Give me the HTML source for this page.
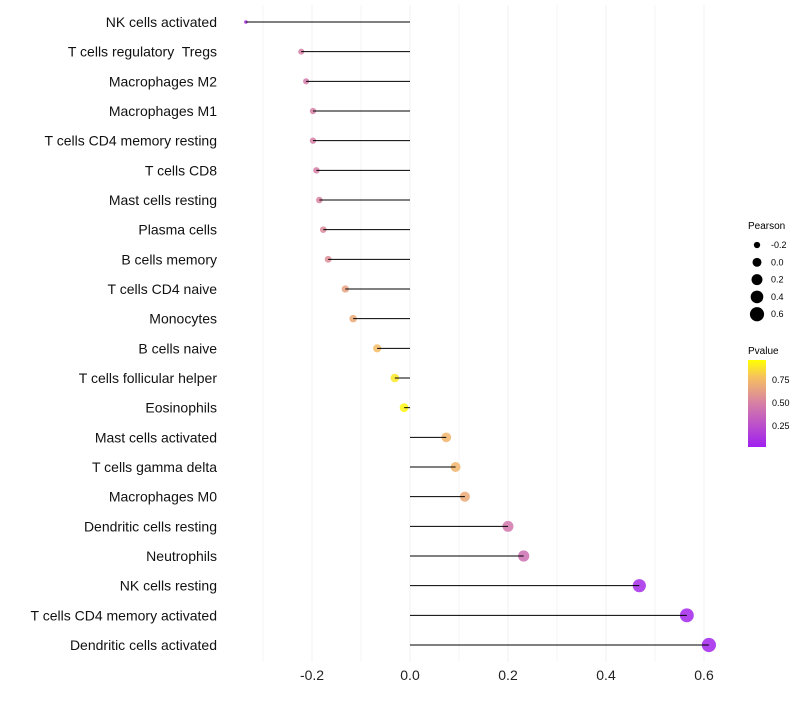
<!DOCTYPE html>
<html><head><meta charset="utf-8"><style>
body{margin:0;background:#fff;font-family:"Liberation Sans",sans-serif}
text{white-space:pre}
</style></head><body>
<svg id="chart" width="800" height="700">
<defs><linearGradient id="pg" x1="0" y1="1" x2="0" y2="0">
<stop offset="0" stop-color="#a020f0"/><stop offset="0.5" stop-color="#d67fa6"/><stop offset="0.8" stop-color="#f6c060"/><stop offset="1" stop-color="#ffff00"/></linearGradient></defs>
<g id="grid"></g><g id="pts"></g><g id="marks"></g><g id="labels"></g>
<g font-size="9" fill="#000">
<text x="748" y="229" font-size="10">Pearson</text>
<text x="748" y="354" font-size="10">Pvalue</text>
<rect x="748" y="360" width="18" height="87" fill="url(#pg)"/>
<text x="772" y="383">0.75</text><text x="772" y="406">0.50</text><text x="772" y="429">0.25</text>
</g>
<g id="sizeleg"></g>
</svg>
<script>
const cells=["NK cells activated","T cells regulatory  Tregs","Macrophages M2","Macrophages M1","T cells CD4 memory resting","T cells CD8","Mast cells resting","Plasma cells","B cells memory","T cells CD4 naive","Monocytes","B cells naive","T cells follicular helper","Eosinophils","Mast cells activated","T cells gamma delta","Macrophages M0","Dendritic cells resting","Neutrophils","NK cells resting","T cells CD4 memory activated","Dendritic cells activated"];
const pearson=[-0.335,-0.222,-0.212,-0.198,-0.198,-0.191,-0.185,-0.177,-0.167,-0.132,-0.116,-0.067,-0.031,-0.012,0.074,0.093,0.112,0.2,0.232,0.468,0.565,0.61];
const pvalue=[0.1,0.5,0.48,0.5,0.5,0.5,0.52,0.55,0.57,0.66,0.7,0.78,0.92,0.97,0.75,0.75,0.7,0.45,0.42,0.05,0.03,0.02];
const xTicks=[-0.2,0,0.2,0.4,0.6];
const xTickLabels=["-0.2","0.0","0.2","0.4","0.6"];
const sizeLegend=[-0.2,0,0.2,0.4,0.6];
const sizeLegendLabels=["-0.2","0.0","0.2","0.4","0.6"];
const NS="http://www.w3.org/2000/svg";
const x=v=>410+490*v;
const y=i=>22+i*(623/21);
const r=v=>Math.sqrt(Math.max(2,20+50*v));
function lerp(a,b,t){return a.map((c,k)=>Math.round(c+(b[k]-c)*t));}
function col(p){const s=[[0,[160,32,240]],[0.5,[214,127,166]],[0.8,[246,192,96]],[1,[255,255,0]]];
for(let k=1;k<s.length;k++){if(p<=s[k][0]){const t=(p-s[k-1][0])/(s[k][0]-s[k-1][0]);return "rgb("+lerp(s[k-1][1],s[k][1],t).join(",")+")";}}return "rgb(255,255,0)";}
function mk(t,a,p){const e=document.createElementNS(NS,t);for(const k in a)e.setAttribute(k,a[k]);p.appendChild(e);return e;}
const grid=document.getElementById('grid'),marks=document.getElementById('marks'),labels=document.getElementById('labels'),pts=document.getElementById('pts');
for(let g=-0.3;g<=0.65;g+=0.1){const v=Math.round(g*10)/10;const ln=mk('line',{x1:x(v),x2:x(v),y1:5,y2:662,stroke:'#f0f0f0','stroke-width':Math.abs(v*10)%2==0?1:0.6},grid);

}
xTicks.forEach((v,i)=>{const t=mk('text',{x:x(v),y:680,'text-anchor':'middle','font-size':14,fill:'#222'},labels);t.textContent=xTickLabels[i];

});
cells.forEach((c,i)=>{
const t=mk('text',{x:217,y:y(i)+5,'text-anchor':'end','font-size':14,fill:'#111'},labels);t.textContent=c;


const d=mk('circle',{cx:x(pearson[i]),cy:y(i),r:r(pearson[i]),fill:col(pvalue[i]),'fill-opacity':0.85},pts);


const l=mk('line',{x1:x(0),x2:x(pearson[i]),y1:y(i),y2:y(i),stroke:'#000','stroke-width':1},marks);


});
const sl=document.getElementById('sizeleg');
sizeLegend.forEach((v,i)=>{const cy=245+i*17.3;
const c=mk('circle',{cx:757,cy:cy,r:r(v),fill:'#000'},sl);


const t=mk('text',{x:771,y:cy+3,'font-size':9,fill:'#000'},sl);t.textContent=sizeLegendLabels[i];

});
</script>
</body></html>
